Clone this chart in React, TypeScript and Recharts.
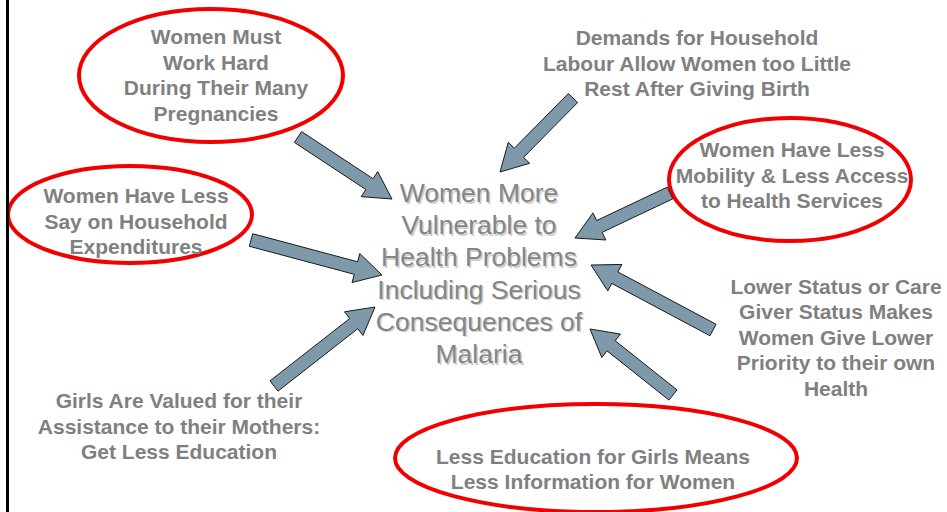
import React from 'react';
import { ComposedChart, Scatter, XAxis, YAxis, ReferenceLine, ReferenceArea } from 'recharts';

// causes around the central statement, one entry per text block
const causeLines: string[][] = [
  ['Women Must', 'Work Hard', 'During Their Many', 'Pregnancies'],
  ['Demands for Household', 'Labour Allow Women too Little', 'Rest After Giving Birth'],
  ['Women Have Less', 'Mobility & Less Access', 'to Health Services'],
  ['Women Have Less', 'Say on Household', 'Expenditures'],
  ['Lower Status or Care', 'Giver Status Makes', 'Women Give Lower', 'Priority to their own', 'Health'],
  ['Girls Are Valued for their', 'Assistance to their Mothers:', 'Get Less Education'],
  ['Less Education for Girls Means', 'Less Information for Women'],
];
const causeX = [216, 697, 792, 136, 836, 179, 593];
const causeY = [75, 63, 175, 221, 337, 426, 469];

const centreLines = ['Women More', 'Vulnerable to', 'Health Problems', 'Including Serious', 'Consequences of', 'Malaria'];
const centreX = 479;
const centreY = 273;

// circled causes: [left, right, top, bottom]
const rings = [
  [79, 343, 9, 142],
  [8, 252, 166, 263],
  [669, 911, 118, 241],
  [395, 797, 404, 512],
];

// arrows: tail -> tip
const arrowTail = [[298, 137], [573, 98], [670, 193], [251, 240], [713, 330], [274, 386], [673, 395]];
const arrowTip = [[392, 199], [500, 172], [575, 238], [382, 275], [591, 265], [375, 307], [590, 329]];

const causeData = causeLines.map((lines, i) => ({ x: causeX[i], y: causeY[i], lines }));
const centreData = [{ x: centreX, y: centreY, lines: centreLines }];

const BoldBlock = (props: any) => {
  const { cx, cy, payload } = props;
  const lh = 25.5;
  const n = payload.lines.length;
  return (
    <text textAnchor="middle" fontFamily="'Liberation Sans', Arial, sans-serif" fontWeight="bold" fontSize={21} fill="#808080">
      {payload.lines.map((l: string, i: number) => (
        <tspan key={i} x={cx} y={cy + (i - (n - 1) / 2) * lh + 7.5}>{l}</tspan>
      ))}
    </text>
  );
};

const CentreBlock = (props: any) => {
  const { cx, cy, payload } = props;
  const lh = 32.2;
  const n = payload.lines.length;
  const draw = (dx: number, dy: number, fill: string) => (
    <text textAnchor="middle" fontFamily="'Liberation Sans', Arial, sans-serif" fontSize={26.5} fill={fill}>
      {payload.lines.map((l: string, i: number) => (
        <tspan key={i} x={cx + dx} y={cy + dy + (i - (n - 1) / 2) * lh + 9.5}>{l}</tspan>
      ))}
    </text>
  );
  return (
    <g>
      {draw(1.5, 1.5, '#cfcfcf')}
      {draw(0, 0, '#858585')}
    </g>
  );
};

const Ring = (props: any) => {
  const { x, y, width, height } = props;
  return (
    <ellipse cx={x + width / 2} cy={y + height / 2} rx={width / 2} ry={height / 2} fill="none" stroke="#f20000" strokeWidth={4} />
  );
};

const Arrow = (props: any) => {
  const { x1, y1, x2, y2 } = props;
  const dx = x2 - x1;
  const dy = y2 - y1;
  const len = Math.sqrt(dx * dx + dy * dy);
  const ux = dx / len;
  const uy = dy / len;
  const nx = -uy;
  const ny = ux;
  const shaft = 6.5;
  const head = 15;
  const headLen = 27;
  const bx = x2 - ux * headLen;
  const by = y2 - uy * headLen;
  const pts = [
    [x1 + nx * shaft, y1 + ny * shaft],
    [bx + nx * shaft, by + ny * shaft],
    [bx + nx * head, by + ny * head],
    [x2, y2],
    [bx - nx * head, by - ny * head],
    [bx - nx * shaft, by - ny * shaft],
    [x1 - nx * shaft, y1 - ny * shaft],
  ];
  return (
    <polygon points={pts.map(p => p.join(',')).join(' ')} fill="#7e99aa" stroke="#1a1a1a" strokeWidth={1} />
  );
};

export default function App() {
  return (
    <div style={{ position: 'absolute', left: 0, top: 0, width: 947, height: 512, background: '#fff' }}>
      <ComposedChart width={947} height={512} margin={{ top: 0, right: 0, bottom: 0, left: 0 }}>
        <XAxis type="number" dataKey="x" domain={[0, 947]} hide allowDataOverflow />
        <YAxis type="number" dataKey="y" domain={[0, 512]} reversed hide allowDataOverflow />
        <ReferenceLine x={7.5} stroke="#000" strokeWidth={3} />
        {rings.map((r, i) => (
          <ReferenceArea key={'r' + i} x1={r[0]} x2={r[1]} y1={r[2]} y2={r[3]} ifOverflow="visible" shape={Ring} />
        ))}
        {arrowTail.map((t, i) => (
          <ReferenceLine
            key={'a' + i}
            segment={[{ x: t[0], y: t[1] }, { x: arrowTip[i][0], y: arrowTip[i][1] }]}
            ifOverflow="visible"
            shape={Arrow}
          />
        ))}
        <Scatter data={causeData} shape={BoldBlock} isAnimationActive={false} />
        <Scatter data={centreData} shape={CentreBlock} isAnimationActive={false} />
      </ComposedChart>
    </div>
  );
}
